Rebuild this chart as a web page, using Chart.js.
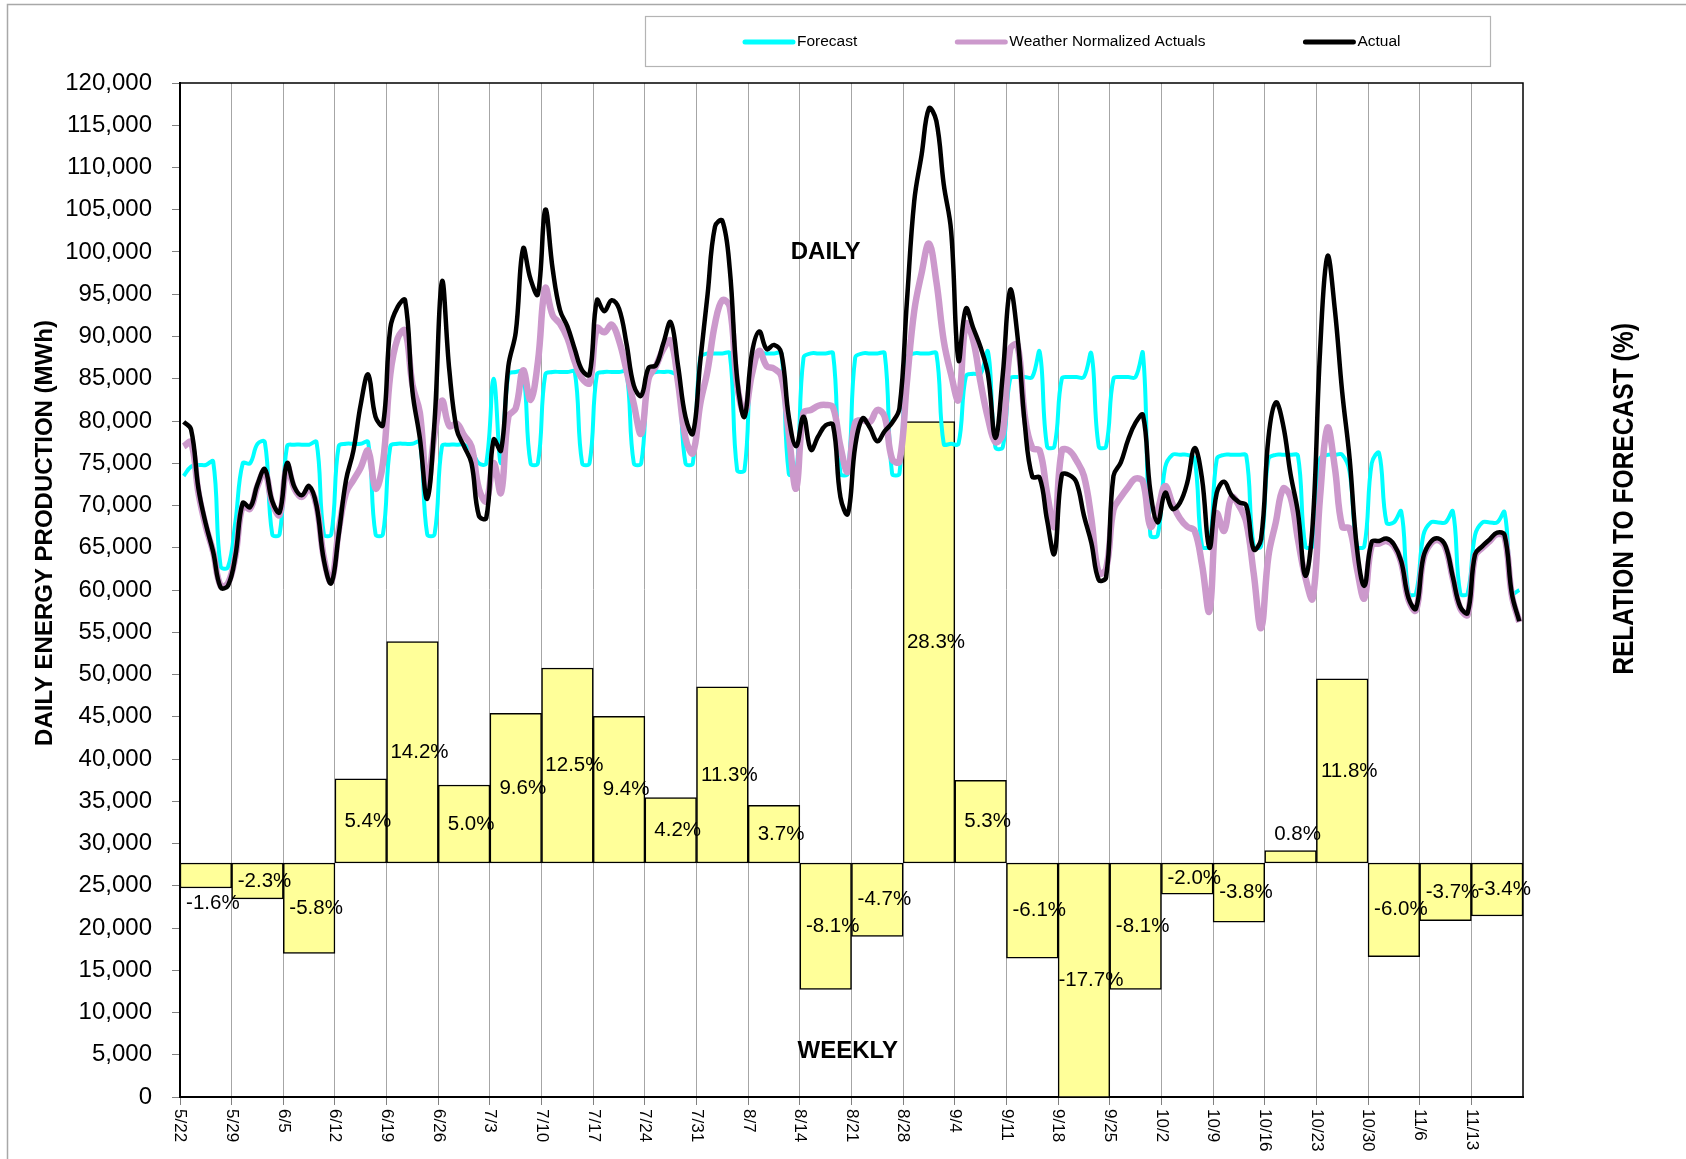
<!DOCTYPE html>
<html>
<head>
<meta charset="utf-8">
<script src="https://cdn.jsdelivr.net/npm/chart.js@4.4.1/dist/chart.umd.min.js"></script>
<style>
  html, body { margin: 0; padding: 0; background: #fff; }
  canvas { display: block; }
</style>
</head>
<body>
<canvas id="graficoEnergia" width="1686" height="1159"></canvas>
<script>
// Semanas (rótulos do eixo X)
const weekLabels = ['5/22', '5/29', '6/5', '6/12', '6/19', '6/26', '7/3', '7/10', '7/17', '7/24', '7/31', '8/7', '8/14',
    '8/21', '8/28', '9/4', '9/11', '9/18', '9/25', '10/2', '10/9', '10/16', '10/23', '10/30', '11/6', '11/13'];

// Variação semanal em relação à previsão (%)
const weeklyPct = [-1.6, -2.3, -5.8, 5.4, 14.2, 5.0, 9.6, 12.5, 9.4, 4.2, 11.3, 3.7, -8.1,
    -4.7, 28.3, 5.3, -6.1, -17.7, -8.1, -2.0, -3.8, 0.8, 11.8, -6.0, -3.7, -3.4];

// Produção diária (MWh), uma linha por semana
const forecast = [
    73500, 74600, 74800, 74800, 75200, 62800, 62700,
    68000, 75000, 75000, 77300, 77500, 66600, 66600,
    77000, 77200, 77200, 77200, 77500, 66600, 66600,
    77000, 77300, 77300, 77300, 77500, 66600, 66600,
    77000, 77300, 77300, 77300, 77500, 66600, 66600,
    77000, 77200, 77200, 77200, 76500, 75000, 75000,
    85000, 75000, 85500, 85800, 85800, 75000, 75000,
    85500, 85800, 85800, 85800, 85800, 75000, 75000,
    85500, 85800, 85800, 85800, 85800, 75000, 75000,
    85500, 85800, 85800, 85800, 85200, 75000, 75000,
    87500, 88000, 88000, 88000, 88000, 74200, 74200,
    87500, 88000, 88000, 88000, 88000, 73800, 73800,
    87500, 88000, 88000, 88000, 88000, 73800, 73800,
    87500, 88000, 88000, 88000, 88000, 73800, 73800,
    87500, 88000, 88000, 88000, 88000, 77300, 77300,
    77300, 85300, 85600, 85600, 88200, 76900, 76900,
    85000, 85200, 85200, 85200, 88200, 77000, 77000,
    85000, 85200, 85200, 85200, 88000, 77000, 77000,
    85000, 85200, 85200, 85200, 88000, 66500, 66500,
    74500, 76000, 76000, 76000, 75500, 65200, 65200,
    75500, 76000, 76000, 76000, 75900, 65200, 65200,
    75500, 76000, 76000, 76000, 75900, 65200, 65200,
    75500, 76000, 76000, 76000, 74000, 65200, 65200,
    75000, 76200, 68000, 68000, 69300, 59600, 59600,
    66500, 68000, 68000, 68000, 69300, 59600, 59600,
    66500, 68000, 68000, 68000, 69200, 59600, 60000
];

const weatherNormalized = [
    77000, 77500, 71500, 67500, 64500, 60500, 60800,
    64000, 70000, 69600, 72300, 74000, 70300, 68900,
    74600, 72000, 71000, 72000, 70000, 63800, 61000,
    67000, 71500, 73000, 74500, 76500, 72000, 75000,
    85500, 89800, 90700, 84300, 81000, 72200, 78500,
    82400, 79400, 79700, 78300, 77000, 72000, 70500,
    75000, 71500, 80500, 81500, 86000, 82500, 87000,
    95700, 92500, 91500, 89800, 87000, 85000, 84500,
    91000, 90500, 91400, 89500, 86000, 82000, 78500,
    85000, 86500, 88500, 89500, 84500, 78000, 76200,
    82000, 86000, 91500, 94300, 93500, 84300, 81000,
    85500, 88300, 86500, 86200, 85300, 78500, 72000,
    81000, 81300, 81800, 81900, 81600, 77000, 74000,
    79800, 80100, 79900, 81300, 80500, 75500, 75200,
    84500, 93000, 97500, 101000, 96500, 89500, 85500,
    82500, 91500, 89500, 84500, 80300, 77500, 78500,
    88500, 89000, 80500, 76800, 76500, 71500, 67500,
    76500, 76500, 75300, 73500, 68500, 62000, 62500,
    69500, 71000, 72200, 73200, 72800, 67500, 69500,
    72300, 70200, 68500, 67500, 67000, 63000, 57500,
    69000, 67000, 71000, 70000, 68000, 62000, 55500,
    64000, 68000, 72000, 71000, 66000, 61500, 59000,
    71000, 79200, 74500, 67500, 67300, 62500, 59000,
    65300, 65500, 65800, 65200, 63200, 58800, 57600,
    63700, 65500, 65900, 65000, 61300, 57800, 57100,
    64000, 65000, 65800, 66600, 66300, 59300, 56200
];

const actual = [
    79900, 79000, 72000, 67800, 64500, 60300, 60500,
    64000, 70300, 69800, 72500, 74300, 70500, 69200,
    75000, 72200, 71200, 72300, 70000, 63500, 60800,
    66500, 73000, 76500, 82000, 85500, 80500, 79500,
    91000, 93500, 94300, 83500, 78000, 70800, 80000,
    96500, 86000, 79000, 77000, 75000, 68800, 68500,
    77800, 76500, 86500, 90500, 100400, 96800, 95000,
    105000, 98000, 93100, 91200, 88500, 86000, 85500,
    94300, 93000, 94300, 93300, 89200, 84200, 83000,
    86300, 86600, 89200, 91700, 86500, 80500, 78500,
    87000, 95000, 103000, 103700, 98000, 85000, 80500,
    88000, 90600, 88500, 89000, 88000, 80500, 77000,
    80500, 76600, 78200, 79500, 79500, 71000, 69000,
    77000, 80300, 79200, 77600, 78800, 79800, 81500,
    94000, 106000, 111500, 117000, 115500, 108000, 102500,
    87200, 93300, 91000, 88700, 85500, 78000, 85500,
    95500, 90000, 79500, 73400, 73300, 68300, 64300,
    73600, 73600, 72700, 68800, 65600, 61200, 61500,
    73500, 75100, 77800, 79800, 80700, 71700, 68000,
    71500, 69600, 70300, 72700, 76800, 73200, 65000,
    71500, 72800, 71200, 70400, 70000, 64800, 66000,
    78000, 82200, 79500, 73700, 69200, 61700, 67800,
    88300, 99500, 93200, 83400, 75600, 64900, 60500,
    65700, 65800, 66100, 65400, 63400, 59000, 57800,
    63900, 65700, 66100, 65200, 61500, 58000, 57300,
    64200, 65200, 66000, 66800, 66500, 59500, 56300
];

// Rótulos diários (um por ponto), a partir de 22/05
const dayLabels = forecast.map((_, i) => {
    const d = new Date(2006, 4, 22 + i);
    return (d.getMonth() + 1) + '/' + d.getDate();
});

const FONTE = "'Liberation Sans', Arial, sans-serif";
const milhar = v => String(v).replace(/\B(?=(\d{3})+(?!\d))/g, ',');

// Rótulos das barras semanais + borda da área do gráfico
const rotulosBarras = {
    id: 'rotulosBarras',
    afterDatasetsDraw(chart) {
        const ctx = chart.ctx;
        const area = chart.chartArea;
        const meta = chart.getDatasetMeta(0);
        ctx.save();
        ctx.strokeStyle = '#000';
        ctx.lineWidth = 1.5;
        ctx.strokeRect(area.left, area.top, area.right - area.left, area.bottom - area.top);
        ctx.font = '20.5px ' + FONTE;
        ctx.fillStyle = '#000';
        ctx.textAlign = 'center';
        ctx.textBaseline = 'middle';
        meta.data.forEach((bar, i) => {
            const v = weeklyPct[i];
            const topo = Math.max(Math.min(bar.y, bar.base), area.top);
            const fundo = Math.min(Math.max(bar.y, bar.base), area.bottom);
            let y = (topo + fundo) / 2;
            if (Math.abs(v) < 1.8) y = v >= 0 ? topo - 16 : fundo + 15;
            ctx.fillText(v.toFixed(1) + '%', bar.x + 7, y);
        });
        ctx.restore();
    }
};

// Rótulos do eixo X girados, legenda, títulos e moldura
const decoracao = {
    id: 'decoracao',
    afterDraw(chart) {
        const ctx = chart.ctx;
        const area = chart.chartArea;
        const x = chart.scales.x;
        const y = chart.scales.y;
        const meioDia = (x.getPixelForValue(1) - x.getPixelForValue(0)) / 2;
        ctx.save();

        // datas semanais
        ctx.font = '17px ' + FONTE;
        ctx.fillStyle = '#000';
        ctx.textAlign = 'left';
        ctx.textBaseline = 'middle';
        weekLabels.forEach((lab, k) => {
            const px = x.getPixelForValue(k * 7) - meioDia;
            ctx.save();
            ctx.translate(px, area.bottom + 12);
            ctx.rotate(Math.PI / 2);
            ctx.fillText(lab, 0, 0);
            ctx.restore();
        });

        // moldura externa
        ctx.strokeStyle = '#a8a8a8';
        ctx.lineWidth = 1.5;
        ctx.beginPath();
        ctx.moveTo(7.5, chart.height);
        ctx.lineTo(7.5, 4.5);
        ctx.lineTo(chart.width, 4.5);
        ctx.stroke();

        // legenda
        ctx.strokeStyle = '#b4b4b4';
        ctx.lineWidth = 1.2;
        ctx.strokeRect(645.5, 16.5, 845, 50);
        ctx.font = '15.5px ' + FONTE;
        ctx.textAlign = 'left';
        let lx = 742;
        const ly = 42;
        chart.data.datasets.filter(d => d.type === 'line').forEach(ds => {
            ctx.strokeStyle = ds.borderColor;
            ctx.lineWidth = 5;
            ctx.lineCap = 'round';
            ctx.beginPath();
            ctx.moveTo(lx + 3, ly);
            ctx.lineTo(lx + 51, ly);
            ctx.stroke();
            ctx.fillText(ds.label, lx + 55, ly);
            lx += 55 + ctx.measureText(ds.label).width + 97;
        });

        // títulos dos eixos
        ctx.textAlign = 'center';
        ctx.font = 'bold 24px ' + FONTE;
        ctx.save();
        ctx.translate(45, 533);
        ctx.rotate(-Math.PI / 2);
        ctx.fillText('DAILY ENERGY PRODUCTION (MWh)', 0, 0);
        ctx.restore();

        ctx.save();
        ctx.translate(1625, 499);
        ctx.rotate(-Math.PI / 2);
        ctx.scale(0.82, 1);
        ctx.font = 'bold 30px ' + FONTE;
        ctx.fillText('RELATION TO FORECAST (%)', 0, 0);
        ctx.restore();

        // anotações
        ctx.font = 'bold 24px ' + FONTE;
        ctx.fillText('DAILY', x.getPixelForValue(87), y.getPixelForValue(100000));
        ctx.fillText('WEEKLY', x.getPixelForValue(90), y.getPixelForValue(5400));
        ctx.restore();
    }
};

const corGrade = c => (c.index % 7 === 0 ? '#a6a6a6' : 'rgba(0,0,0,0)');

const ctxEnergia = document.getElementById('graficoEnergia').getContext('2d');
new Chart(ctxEnergia, {
    type: 'bar',
    data: {
        labels: dayLabels,
        datasets: [{
            type: 'bar',
            label: 'Weekly',
            data: weeklyPct,
            xAxisID: 'xw',
            yAxisID: 'y2',
            backgroundColor: '#FFFF99',
            borderColor: '#000000',
            borderWidth: 1.5,
            borderSkipped: false,
            grouped: false,
            barPercentage: 1,
            categoryPercentage: 1,
            order: 10
        }, {
            type: 'line',
            label: 'Forecast',
            data: forecast,
            borderColor: '#00FFFF',
            borderWidth: 4,
            pointRadius: 0,
            tension: 0.4,
            order: 3
        }, {
            type: 'line',
            label: 'Weather Normalized Actuals',
            data: weatherNormalized,
            borderColor: '#CC99CC',
            borderWidth: 6.5,
            pointRadius: 0,
            tension: 0.4,
            order: 2
        }, {
            type: 'line',
            label: 'Actual',
            data: actual,
            borderColor: '#000000',
            borderWidth: 4.5,
            pointRadius: 0,
            tension: 0.4,
            order: 1
        }]
    },
    options: {
        responsive: false,
        maintainAspectRatio: false,
        animation: false,
        layout: { padding: { top: 83, right: 163, bottom: 0, left: 0 } },
        plugins: {
            legend: { display: false },
            tooltip: { enabled: false }
        },
        scales: {
            x: {
                type: 'category',
                offset: true,
                ticks: { display: false },
                grid: { offset: true, color: corGrade, tickColor: c => (c.index % 7 === 0 ? '#808080' : 'rgba(0,0,0,0)'), tickLength: 8, lineWidth: 1 },
                border: { color: '#000', width: 2 },
                afterFit: s => { s.height = 62; }
            },
            xw: {
                type: 'category',
                labels: weekLabels,
                offset: true,
                display: false
            },
            y: {
                type: 'linear',
                position: 'left',
                min: 0,
                max: 120000,
                ticks: {
                    stepSize: 5000,
                    padding: 20,
                    color: '#000',
                    font: { family: FONTE, size: 24 },
                    callback: v => milhar(v)
                },
                grid: { drawOnChartArea: false, drawTicks: true, tickLength: 8, color: '#808080' },
                border: { color: '#000', width: 2 },
                afterFit: s => { s.width = 180; }
            },
            y2: {
                type: 'linear',
                position: 'right',
                min: -15,
                max: 50,
                display: false
            }
        }
    },
    plugins: [rotulosBarras, decoracao]
});
</script>
</body>
</html>
